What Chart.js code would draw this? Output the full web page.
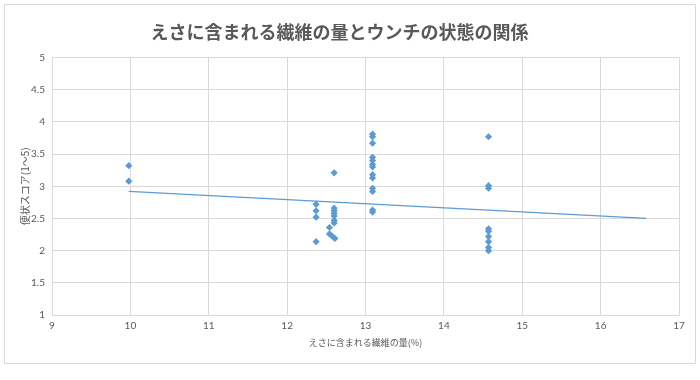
<!DOCTYPE html>
<html>
<head>
<meta charset="utf-8">
<script src="https://cdn.jsdelivr.net/npm/chart.js@4.4.0/dist/chart.umd.min.js"></script>
<style>
  html, body { margin: 0; padding: 0; background: #ffffff; }
  #wrap { width: 700px; height: 380px; }
</style>
</head>
<body>
<div id="wrap"><canvas id="c" width="700" height="380"></canvas></div>
<script>
// ---- data ----
const chartTitle = 'えさに含まれる繊維の量とウンチの状態の関係';
const xAxisTitle = 'えさに含まれる繊維の量(%)';
const yAxisTitle = '便状スコア(1〜5)';

const fiberPct = [
  9.98, 9.98,
  12.37, 12.37, 12.37, 12.37,
  12.60, 12.60, 12.60, 12.60, 12.60, 12.60, 12.60, 12.54, 12.54, 12.57, 12.61,
  13.09, 13.09, 13.09, 13.09, 13.09, 13.09, 13.09, 13.09, 13.09, 13.09, 13.09, 13.09, 13.09,
  14.57, 14.57, 14.57, 14.57, 14.57, 14.57, 14.57, 14.57, 14.57
];
const stoolScore = [
  3.32, 3.08,
  2.72, 2.62, 2.52, 2.14,
  3.21, 2.66, 2.62, 2.58, 2.54, 2.47, 2.43, 2.36, 2.26, 2.23, 2.19,
  3.81, 3.77, 3.67, 3.45, 3.40, 3.34, 3.30, 3.18, 3.13, 2.97, 2.92, 2.63, 2.60,
  3.77, 3.01, 2.97, 2.34, 2.30, 2.22, 2.14, 2.05, 2.00
];

// linear trendline endpoints (as drawn)
const trendX = [9.98, 16.58];
const trendY = [2.92, 2.50];

const xTickLabels = ['9', '10', '11', '12', '13', '14', '15', '16', '17'];
const yTickLabels = ['1', '1.5', '2', '2.5', '3', '3.5', '4', '4.5', '5'];

// ---- build chart ----
const points = fiberPct.map((x, i) => ({ x: x, y: stoolScore[i] }));
const trend = trendX.map((x, i) => ({ x: x, y: trendY[i] }));

const blue = '#5b9bd5';
const grid = '#d9d9d9';
const txt = '#595959';
const jpFont = '"Noto Sans CJK JP", sans-serif';

const frame = {
  id: 'frame',
  beforeDraw(chart) {
    const ctx = chart.ctx;
    ctx.save();
    ctx.fillStyle = '#ffffff';
    ctx.fillRect(0, 0, chart.width, chart.height);
    ctx.strokeStyle = grid;
    ctx.lineWidth = 1;
    ctx.strokeRect(4.5, 4.5, 691, 359);
    ctx.restore();
  }
};

new Chart(document.getElementById('c'), {
  type: 'scatter',
  data: {
    datasets: [
      {
        label: 'data',
        data: points,
        pointStyle: 'rectRot',
        pointRadius: 3.6,
        pointHoverRadius: 3.6,
        backgroundColor: blue,
        borderColor: blue,
        borderWidth: 0,
        order: 1
      },
      {
        label: 'trend',
        type: 'line',
        data: trend,
        borderColor: blue,
        borderWidth: 1.3,
        pointRadius: 0,
        fill: false,
        order: 2
      }
    ]
  },
  options: {
    responsive: false,
    animation: false,
    layout: { padding: { left: 0, right: 21, top: 0, bottom: 0 } },
    plugins: {
      legend: { display: false },
      tooltip: { enabled: false },
      title: {
        display: true,
        text: chartTitle,
        color: txt,
        font: { family: jpFont, size: 18, weight: 'bold' },
        padding: { top: 21, bottom: 15 }
      }
    },
    scales: {
      x: {
        type: 'linear',
        min: 9,
        max: 17,
        afterFit(s) { s.height = 65; },
        ticks: {
          stepSize: 1,
          color: txt,
          padding: 5,
          font: { family: 'Lato, sans-serif', size: 10 },
          callback: (v) => xTickLabels[Math.round(v - 9)]
        },
        grid: { color: grid, drawTicks: false },
        border: { color: grid },
        title: {
          display: true,
          text: xAxisTitle,
          color: txt,
          font: { family: jpFont, size: 9 },
          padding: { top: 0, bottom: 32 }
        }
      },
      y: {
        type: 'linear',
        min: 1,
        max: 5,
        afterFit(s) { s.width = 52; },
        ticks: {
          stepSize: 0.5,
          color: txt,
          padding: 7,
          font: { family: 'Lato, sans-serif', size: 10 },
          callback: (v) => yTickLabels[Math.round((v - 1) * 2)]
        },
        grid: { color: grid, drawTicks: false },
        border: { color: grid },
        title: {
          display: true,
          text: yAxisTitle,
          color: txt,
          font: { family: jpFont, size: 10 },
          padding: { top: 19, bottom: 0 }
        }
      }
    }
  },
  plugins: [frame]
});
</script>
</body>
</html>
